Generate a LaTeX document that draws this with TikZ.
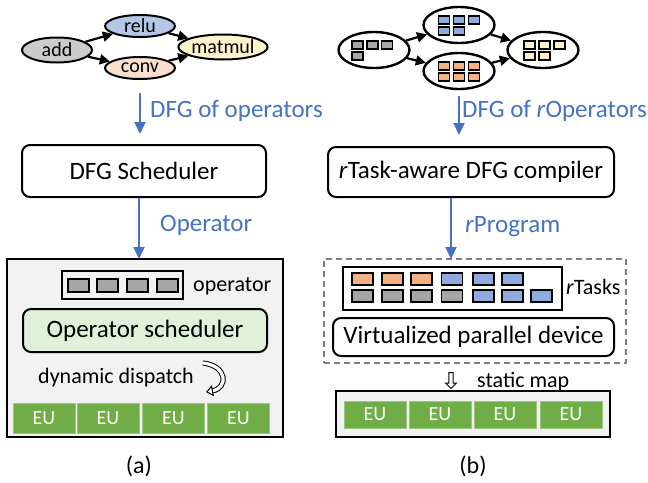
\documentclass[tikz,border=0pt]{standalone}
\usepackage{fontspec}
\setmainfont{Carlito}
\usetikzlibrary{arrows.meta,shapes.geometric,shapes.arrows}
\definecolor{bluearr}{HTML}{4472C4}
\definecolor{gryfill}{HTML}{CCCCCC}
\definecolor{relufill}{HTML}{B4C7E7}
\definecolor{convfill}{HTML}{FBE0D0}
\definecolor{matfill}{HTML}{FFF2CC}
\definecolor{cellgray}{HTML}{A6A6A6}
\definecolor{cellblue}{HTML}{8FAADC}
\definecolor{cellorange}{HTML}{F4B183}
\definecolor{cellyellow}{HTML}{FFF2CC}
\definecolor{panelbg}{HTML}{F2F2F2}
\definecolor{schedfill}{HTML}{E2F0D9}
\definecolor{eugreen}{HTML}{70AD47}
\definecolor{dashgray}{HTML}{7F7F7F}
\tikzset{
  fbig/.style={font=\fontsize{25}{30}\selectfont},
  fmid/.style={font=\fontsize{22}{26}\selectfont},
  fsmall/.style={font=\fontsize{20}{24}\selectfont},
  opell/.style={ellipse, draw=black, line width=2pt, inner sep=0pt, fsmall},
  rell/.style={ellipse, draw=black, line width=2.4pt, fill=white, inner sep=0pt, minimum width=71pt, minimum height=36pt},
  dfgarrow/.style={line width=2.2pt, -{Triangle[length=10pt, width=10pt]}},
  bluearrow/.style={draw=bluearr, line width=2pt, -{Triangle[length=12pt, width=11pt]}},
  bluelabel/.style={text=bluearr, fbig, inner sep=0pt, anchor=base west},
  rbox/.style={draw=black, line width=2pt, rounded corners=8pt, fill=white, fbig},
  cellbox/.style={draw=black, line width=1.3pt, inner sep=0pt, minimum width=11pt, minimum height=8pt},
  tcell/.style={draw=black, line width=1.5pt, inner sep=0pt, minimum width=21pt, minimum height=12pt},
  eubox/.style={fill=eugreen, draw=eugreen!70!white, line width=0.6pt, text=white, fsmall, inner sep=0pt, minimum width=62pt, minimum height=30pt},
  plain/.style={inner sep=0pt, anchor=base west}
}
\begin{document}
\begin{tikzpicture}[x=1pt,y=-1pt]
\useasboundingbox (0,0) rectangle (648,482);

% ---------------- (a) ----------------
\node[opell, fill=gryfill, minimum width=70pt, minimum height=25pt] (add) at (57,50) {add};
\node[opell, fill=relufill, minimum width=70pt, minimum height=22pt] (relu) at (140,26) {relu};
\node[opell, fill=convfill, minimum width=70pt, minimum height=22pt] (conv) at (140,68) {conv};
\node[opell, fill=matfill, minimum width=70pt, minimum height=25pt] (matmul) at (223,47) {matmul};
\draw[dfgarrow] (add) -- (relu);
\draw[dfgarrow] (add) -- (conv);
\draw[dfgarrow] (relu) -- (matmul);
\draw[dfgarrow] (conv) -- (matmul);

\node[rbox, minimum width=244pt, minimum height=52pt] (sched) at (144,171) {DFG Scheduler};
\draw[bluearrow, shorten <=13pt, shorten >=10pt] (conv.south) -- (conv.south |- sched.north);
\node[bluelabel] (lbla) at (150,117) {DFG of operators};

\node[draw=black, line width=1.5pt, fill=panelbg, minimum width=276pt, minimum height=178pt, inner sep=0pt] (panela) at (145,348) {};
\coordinate (pa) at (139,259);
\draw[bluearrow] (sched.south -| pa) -- (pa);
\node[bluelabel] (lblop) at (160,231) {Operator};

\node[draw=black, line width=2pt, minimum width=121pt, minimum height=28pt, inner sep=0pt] (opbox) at (122.5,285) {};
\foreach \x [count=\i] in {78.5,107.5,137.5,167.5}
  \node[draw=black, line width=1.5pt, fill=cellgray, inner sep=0pt, minimum width=21pt, minimum height=13pt] (oc\i) at (\x,285.5) {};
\node[plain, fmid] (oplbl) at (193,291) {operator};

\node[draw=black, line width=2pt, rounded corners=8pt, fill=schedfill, fbig, minimum width=244pt, minimum height=43pt, inner sep=0pt] (opsched) at (145,330.5) {Operator scheduler};
\node[plain, fmid] (dyn) at (38,383) {dynamic dispatch};
\coordinate (dd1) at (203,363);
\coordinate (dd2) at (206,392);
\draw[line width=1pt, double=white, double distance=3.2pt, -{Triangle[open, fill=white, length=7pt, width=11pt, line width=1pt]}] (dd1) .. controls (228,366) and (228,388) .. (dd2);

\foreach \x [count=\i] in {44,108,173.5,238.5}
  \node[eubox] (eua\i) at (\x,418) {EU};

\node[font=\fontsize{24}{28}\selectfont, inner sep=0pt] (capa) at (139,466) {(a)};

% ---------------- (b) ----------------
\node[rell] (n1) at (374,50) {};
\node[rell] (n2) at (459,25) {};
\node[rell] (n3) at (459,71) {};
\node[rell] (n4) at (543,50) {};
\draw[dfgarrow] (n1) -- (n2);
\draw[dfgarrow] (n1) -- (n3);
\draw[dfgarrow] (n2) -- (n4);
\draw[dfgarrow] (n3) -- (n4);

% cells in ellipses
\foreach \x/\y [count=\i] in {357.5/45, 372.5/45, 387/45, 357.5/56}
  \node[cellbox, fill=cellgray] (g\i) at (\x,\y) {};
\foreach \x/\y [count=\i] in {444/20, 459/20, 474/20, 444/31, 459/31}
  \node[cellbox, fill=cellblue] (b\i) at (\x,\y) {};
\foreach \x/\y [count=\i] in {444/66, 459/66, 474/66, 444/77, 459/77, 474/77}
  \node[cellbox, fill=cellorange] (o\i) at (\x,\y) {};
\foreach \x/\y [count=\i] in {529.5/45, 544.5/45, 559.5/45, 529.5/56, 544.5/56}
  \node[cellbox, fill=cellyellow] (y\i) at (\x,\y) {};

\node[rbox, minimum width=286pt, minimum height=50pt, inner sep=0pt] (comp) at (471,172) {\textit{r}Task-aware DFG compiler};
\draw[bluearrow, shorten <=6pt, shorten >=11pt] (n3.south) -- (n3.south |- comp.north);
\node[bluelabel] (lblb) at (462,117) {DFG of \textit{r}Operators};

\node[draw=dashgray, dash pattern=on 6pt off 4pt, line width=2pt, minimum width=302pt, minimum height=104pt, inner sep=0pt] (dashbox) at (475,311) {};
\coordinate (pb) at (451,259);
\draw[bluearrow] (comp.south -| pb) -- (pb);
\node[bluelabel] (lblprog) at (465,232) {\textit{r}Program};

\node[draw=black, line width=2pt, fill=white, minimum width=219pt, minimum height=43pt, inner sep=0pt] (taskbox) at (452.5,288.5) {};
\foreach \x/\c [count=\i] in {362.5/cellorange, 392.5/cellorange, 421.5/cellorange, 452/cellblue, 483.5/cellblue, 512.5/cellblue}
  \node[tcell, fill=\c] (ta\i) at (\x,279) {};
\foreach \x/\c [count=\i] in {362.5/cellgray, 392.5/cellgray, 421.5/cellgray, 452/cellgray, 483.5/cellblue, 512.5/cellblue, 541.5/cellblue}
  \node[tcell, fill=\c] (tb\i) at (\x,296) {};
\node[plain, fmid] (rt) at (566,294) {\textit{r}Tasks};

\node[rbox, minimum width=281pt, minimum height=38pt, inner sep=0pt] (vpd) at (473.5,337) {Virtualized parallel device};

\node[single arrow, draw=black, line width=0.9pt, fill=white, shape border rotate=270, minimum height=16pt, minimum width=11pt, single arrow head extend=2.5pt, inner sep=1.2pt] (smarr) at (451,379.5) {};
\node[plain, fmid] (smap) at (477,387) {static map};

\node[draw=black, line width=2pt, fill=panelbg, minimum width=274pt, minimum height=46pt, inner sep=0pt] (panelb) at (473,414) {};
\foreach \x [count=\i] in {375,440,505,571}
  \node[eubox, minimum height=27pt] (eub\i) at (\x,414.5) {EU};

\node[font=\fontsize{24}{28}\selectfont, inner sep=0pt] (capb) at (473,466) {(b)};
\end{tikzpicture}
\end{document}
